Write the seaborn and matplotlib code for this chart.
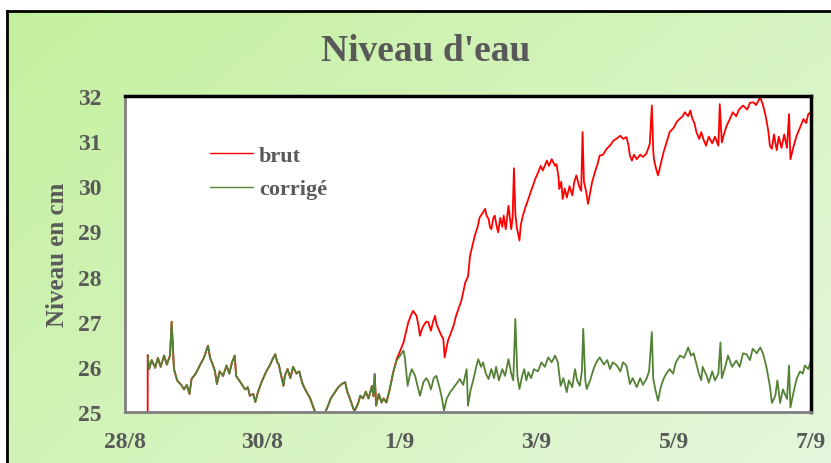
"""
Niveau d'eau : brut vs corrigé (28/8 -> 7/9)
"""

import numpy as np
import pandas as pd
import matplotlib
matplotlib.use("Agg")
import matplotlib.pyplot as plt
import seaborn as sns

# --- data (jours depuis le 28/8, niveau en cm) ---
corrige_jours = [
    0.331, 0.35, 0.39, 0.44, 0.48, 0.52, 0.57, 0.61, 0.656, 0.68, 0.714, 0.76, 0.82, 0.86, 0.90,
    0.94, 0.97, 1.03, 1.09, 1.15, 1.21, 1.24, 1.28, 1.31, 1.34, 1.38, 1.43, 1.48, 1.52, 1.56,
    1.60, 1.62, 1.65, 1.70, 1.75, 1.79, 1.82, 1.87, 1.90, 1.94, 1.99, 2.06, 2.11, 2.16, 2.19,
    2.22, 2.24, 2.27, 2.31, 2.33, 2.37, 2.41, 2.45, 2.50, 2.54, 2.58, 2.61, 2.65, 2.70, 2.77,
    2.81, 2.87, 2.92, 2.96, 3.00, 3.06, 3.11, 3.16, 3.21, 3.24, 3.28, 3.33, 3.35, 3.40, 3.43,
    3.47, 3.51, 3.55, 3.60, 3.62, 3.64, 3.66, 3.70, 3.74, 3.77, 3.81, 3.86, 3.91, 3.96, 4.01,
    4.06, 4.08, 4.12, 4.15, 4.18, 4.23, 4.26, 4.30, 4.35, 4.39, 4.42, 4.46, 4.50, 4.54, 4.59,
    4.62, 4.65, 4.69, 4.74, 4.81, 4.88, 4.93, 4.98, 5.00, 5.04, 5.08, 5.12, 5.15, 5.19, 5.22,
    5.26, 5.30, 5.34, 5.38, 5.41, 5.45, 5.50, 5.54, 5.59, 5.63, 5.66, 5.69, 5.72, 5.75, 5.79,
    5.82, 5.85, 5.88, 5.92, 5.96, 6.02, 6.07, 6.12, 6.17, 6.22, 6.27, 6.31, 6.35, 6.39, 6.44,
    6.47, 6.52, 6.56, 6.59, 6.63, 6.66, 6.68, 6.71, 6.73, 6.78, 6.83, 6.87, 6.92, 6.98, 7.03,
    7.07, 7.11, 7.17, 7.22, 7.26, 7.31, 7.36, 7.40, 7.46, 7.51, 7.55, 7.60, 7.64, 7.68, 7.70,
    7.73, 7.77, 7.81, 7.85, 7.89, 7.94, 7.99, 8.03, 8.09, 8.15, 8.21, 8.25, 8.29, 8.36, 8.40,
    8.42, 8.48, 8.51, 8.56, 8.60, 8.65, 8.68, 8.70, 8.75, 8.79, 8.85, 8.91, 8.96, 9.01, 9.06,
    9.11, 9.15, 9.21, 9.26, 9.30, 9.35, 9.40, 9.43, 9.48, 9.51, 9.55, 9.59, 9.65, 9.68, 9.70,
    9.74, 9.79, 9.84, 9.88, 9.91, 9.96, 10.0,
]
corrige_niveau = [
    26.26, 25.95, 26.15, 25.98, 26.20, 26.00, 26.25, 26.05, 26.25, 27.00, 25.95, 25.70, 25.60, 25.50, 25.60,
    25.40, 25.73, 25.85, 26.03, 26.20, 26.47, 26.20, 26.05, 25.91, 25.62, 25.90, 25.80, 26.03, 25.85, 26.10,
    26.25, 25.80, 25.73, 25.62, 25.50, 25.55, 25.36, 25.40, 25.22, 25.45, 25.66, 25.90, 26.03, 26.20, 26.28,
    26.10, 26.06, 25.85, 25.58, 25.80, 25.95, 25.75, 26.00, 25.85, 25.90, 25.66, 25.55, 25.44, 25.30, 25.00,
    24.90, 24.95, 25.00, 25.14, 25.30, 25.44, 25.55, 25.62, 25.66, 25.45, 25.29, 25.07, 25.03, 25.20, 25.36,
    25.30, 25.45, 25.30, 25.58, 25.35, 25.84, 25.14, 25.40, 25.21, 25.30, 25.21, 25.51, 25.88, 26.14, 26.25,
    26.36, 26.20, 25.58, 25.80, 25.95, 25.80, 25.60, 25.36, 25.66, 25.75, 25.69, 25.50, 25.75, 25.80, 25.51,
    25.30, 25.03, 25.30, 25.44, 25.58, 25.73, 25.60, 25.95, 25.14, 25.50, 25.73, 26.00, 26.17, 26.00, 26.10,
    25.85, 25.73, 25.95, 25.75, 26.00, 25.70, 25.95, 25.80, 26.17, 25.85, 25.70, 27.06, 25.80, 25.51, 25.80,
    25.95, 25.70, 25.88, 25.75, 25.95, 25.90, 26.10, 26.00, 26.21, 26.10, 26.25, 26.10, 25.58, 25.75, 25.44,
    25.70, 25.55, 25.95, 25.70, 25.58, 25.90, 26.84, 25.70, 25.51, 25.70, 25.95, 26.10, 26.21, 26.05, 26.15,
    25.95, 26.10, 26.03, 25.90, 26.10, 26.03, 25.62, 25.75, 25.55, 25.75, 25.60, 25.73, 25.90, 26.77, 25.75,
    25.50, 25.25, 25.55, 25.73, 25.85, 25.95, 25.85, 26.10, 26.25, 26.20, 26.43, 26.25, 26.30, 25.88, 25.70,
    26.00, 25.80, 25.65, 25.90, 25.70, 25.85, 26.54, 25.75, 26.00, 26.25, 26.00, 26.14, 26.00, 26.30, 26.28,
    26.15, 26.40, 26.30, 26.43, 26.30, 26.00, 25.58, 25.20, 25.36, 25.70, 25.20, 25.50, 25.29, 26.03, 25.10,
    25.40, 25.73, 25.90, 25.85, 26.03, 25.95, 26.14,
]

# brut : chute initiale, identique au corrigé jusqu'au 1/9, puis dérive
brut_depart_jours = [0.330]
brut_depart_niveau = [24.0]
brut_fin_jours = [
    3.96, 4.01, 4.06, 4.10, 4.13, 4.17, 4.20, 4.25, 4.28, 4.30, 4.32, 4.35, 4.39, 4.42, 4.46,
    4.49, 4.52, 4.54, 4.57, 4.61, 4.64, 4.66, 4.69, 4.71, 4.75, 4.79, 4.82, 4.86, 4.90, 4.93,
    4.96, 5.00, 5.03, 5.06, 5.10, 5.14, 5.17, 5.21, 5.25, 5.27, 5.30, 5.32, 5.34, 5.37, 5.39,
    5.42, 5.44, 5.47, 5.50, 5.52, 5.55, 5.59, 5.61, 5.63, 5.65, 5.67, 5.69, 5.71, 5.75, 5.77,
    5.80, 5.84, 5.88, 5.92, 5.98, 6.02, 6.06, 6.09, 6.15, 6.18, 6.22, 6.27, 6.29, 6.32, 6.33,
    6.36, 6.38, 6.41, 6.44, 6.48, 6.52, 6.55, 6.58, 6.62, 6.65, 6.67, 6.69, 6.72, 6.75, 6.78,
    6.81, 6.85, 6.89, 6.92, 6.97, 7.02, 7.07, 7.12, 7.16, 7.22, 7.26, 7.31, 7.34, 7.36, 7.39,
    7.42, 7.46, 7.51, 7.55, 7.60, 7.63, 7.65, 7.68, 7.70, 7.71, 7.74, 7.77, 7.81, 7.85, 7.90,
    7.94, 8.00, 8.04, 8.09, 8.13, 8.16, 8.21, 8.24, 8.27, 8.30, 8.33, 8.37, 8.40, 8.43, 8.47,
    8.51, 8.56, 8.60, 8.65, 8.67, 8.70, 8.73, 8.77, 8.82, 8.86, 8.91, 8.95, 9.01, 9.07, 9.11,
    9.16, 9.20, 9.26, 9.30, 9.34, 9.38, 9.40, 9.43, 9.46, 9.50, 9.53, 9.57, 9.61, 9.65, 9.68,
    9.70, 9.74, 9.79, 9.84, 9.89, 9.93, 9.96, 10.0,
]
brut_fin_niveau = [
    26.17, 26.35, 26.54, 26.80, 26.99, 27.15, 27.24, 27.13, 26.90, 26.69, 26.80, 26.91, 27.00, 26.99, 26.80,
    27.00, 27.13, 26.95, 26.84, 26.70, 26.62, 26.21, 26.45, 26.59, 26.75, 26.91, 27.10, 27.28, 27.45, 27.65,
    27.87, 28.00, 28.46, 28.65, 28.91, 29.10, 29.31, 29.40, 29.50, 29.35, 29.28, 29.10, 29.05, 29.30, 29.35,
    29.10, 28.98, 29.30, 29.10, 29.35, 29.05, 29.57, 29.30, 29.05, 29.30, 30.40, 29.40, 29.10, 28.80, 29.15,
    29.35, 29.55, 29.72, 29.90, 30.16, 30.30, 30.45, 30.35, 30.57, 30.45, 30.60, 30.45, 30.49, 30.20, 29.94,
    30.10, 29.72, 29.95, 29.75, 30.00, 29.80, 30.10, 30.24, 30.00, 29.90, 31.20, 30.10, 29.90, 29.61, 29.85,
    30.10, 30.31, 30.50, 30.68, 30.70, 30.83, 30.90, 31.01, 31.05, 31.12, 31.05, 31.09, 30.90, 30.68, 30.57,
    30.70, 30.60, 30.70, 30.65, 30.72, 30.85, 30.94, 31.79, 30.80, 30.60, 30.40, 30.24, 30.50, 30.75, 31.00,
    31.20, 31.30, 31.42, 31.50, 31.55, 31.64, 31.55, 31.68, 31.50, 31.40, 31.20, 31.05, 31.20, 31.05, 30.90,
    31.10, 30.95, 31.10, 30.90, 31.82, 30.97, 31.15, 31.34, 31.50, 31.64, 31.55, 31.70, 31.79, 31.70, 31.85,
    31.86, 31.80, 31.97, 31.80, 31.55, 31.20, 30.90, 30.83, 31.15, 30.80, 31.10, 30.85, 31.15, 30.85, 31.60,
    30.60, 30.85, 31.12, 31.30, 31.49, 31.40, 31.60, 31.64,
]

x_ticks = [0, 2, 4, 6, 8, 10]
x_labels = ["28/8", "30/8", "1/9", "3/9", "5/9", "7/9"]
y_ticks = [25, 26, 27, 28, 29, 30, 31, 32]

# --- style ---
sns.set_style("white")
plt.rcParams["font.family"] = ["Liberation Serif", "DejaVu Serif"]
plt.rcParams["font.weight"] = "bold"
GRIS = "#595959"
ROUGE = "#ff0000"
VERT = "#548235"

# brut assemblé à partir des lectures
n_commun = corrige_jours.index(3.91) + 1
df_corrige = pd.DataFrame({"jour": corrige_jours, "niveau": corrige_niveau})
df_brut = pd.DataFrame({
    "jour": brut_depart_jours + corrige_jours[:n_commun] + brut_fin_jours,
    "niveau": brut_depart_niveau + corrige_niveau[:n_commun] + brut_fin_niveau,
})

W, H = 831, 464
fig = plt.figure(figsize=(W / 100, H / 100), dpi=100, facecolor="white")

# fond en dégradé vert avec cadre noir
bg = fig.add_axes([7 / W, 0, 1 - 7 / W, 1 - 12 / H], zorder=-10)
gx, gy = np.meshgrid(np.linspace(0, 1, 200), np.linspace(0, 1, 120))
t = (gx * 0.6 + gy * 0.4)
c0 = np.array([196, 240, 158]) / 255
c1 = np.array([229, 247, 220]) / 255
grad = c0[None, None, :] * (1 - t[..., None]) + c1[None, None, :] * t[..., None]
bg.imshow(grad, aspect="auto", extent=[0, 1, 0, 1], origin="upper")
bg.set_xticks([])
bg.set_yticks([])
for side in ["right", "bottom"]:
    bg.spines[side].set_visible(False)
for side in ["left", "top"]:
    bg.spines[side].set_color("black")
    bg.spines[side].set_linewidth(2)

ax = fig.add_axes([125 / W, 1 - 413 / H, 686 / W, 316 / H])
ax.set_facecolor("white")

sns.lineplot(data=df_brut, x="jour", y="niveau", ax=ax, color=ROUGE, lw=1.3,
             sort=False, estimator=None, label="brut")
sns.lineplot(data=df_corrige, x="jour", y="niveau", ax=ax, color=VERT, lw=1.3,
             sort=False, estimator=None, label="corrigé")

ax.set_xlim(0, 10)
ax.set_ylim(25, 32)
ax.set_xticks(x_ticks)
ax.set_xticklabels(x_labels)
ax.set_yticks(y_ticks)
ax.tick_params(axis="both", length=0, labelsize=17, labelcolor=GRIS)
ax.tick_params(axis="y", pad=17)
ax.tick_params(axis="x", pad=14)
for lab in ax.get_xticklabels() + ax.get_yticklabels():
    lab.set_fontweight("bold")
ax.set_xlabel("")
ax.set_ylabel("")

for side in ["top", "right"]:
    ax.spines[side].set_color("black")
    ax.spines[side].set_linewidth(2.5)
for side in ["left", "bottom"]:
    ax.spines[side].set_color("#7f7f7f")
    ax.spines[side].set_linewidth(2)

leg = ax.legend(loc="upper left", bbox_to_anchor=(0.124, 0.845), frameon=False,
                fontsize=16, handlelength=1.95, handletextpad=0.25,
                labelspacing=0.6, borderpad=0, borderaxespad=0)
for line in leg.get_lines():
    line.set_linewidth(1.0)
for txt in leg.get_texts():
    txt.set_color(GRIS)
    txt.set_fontweight("bold")

fig.text(426 / W, 1 - 52 / H, "Niveau d'eau", ha="center", va="center",
         fontsize=27, fontweight="bold", color=GRIS)
fig.text(58 / W, 1 - 255 / H, "Niveau en cm", ha="center", va="center",
         rotation=90, fontsize=18, fontweight="bold", color=GRIS)

fig.savefig("out.png", dpi=100)
